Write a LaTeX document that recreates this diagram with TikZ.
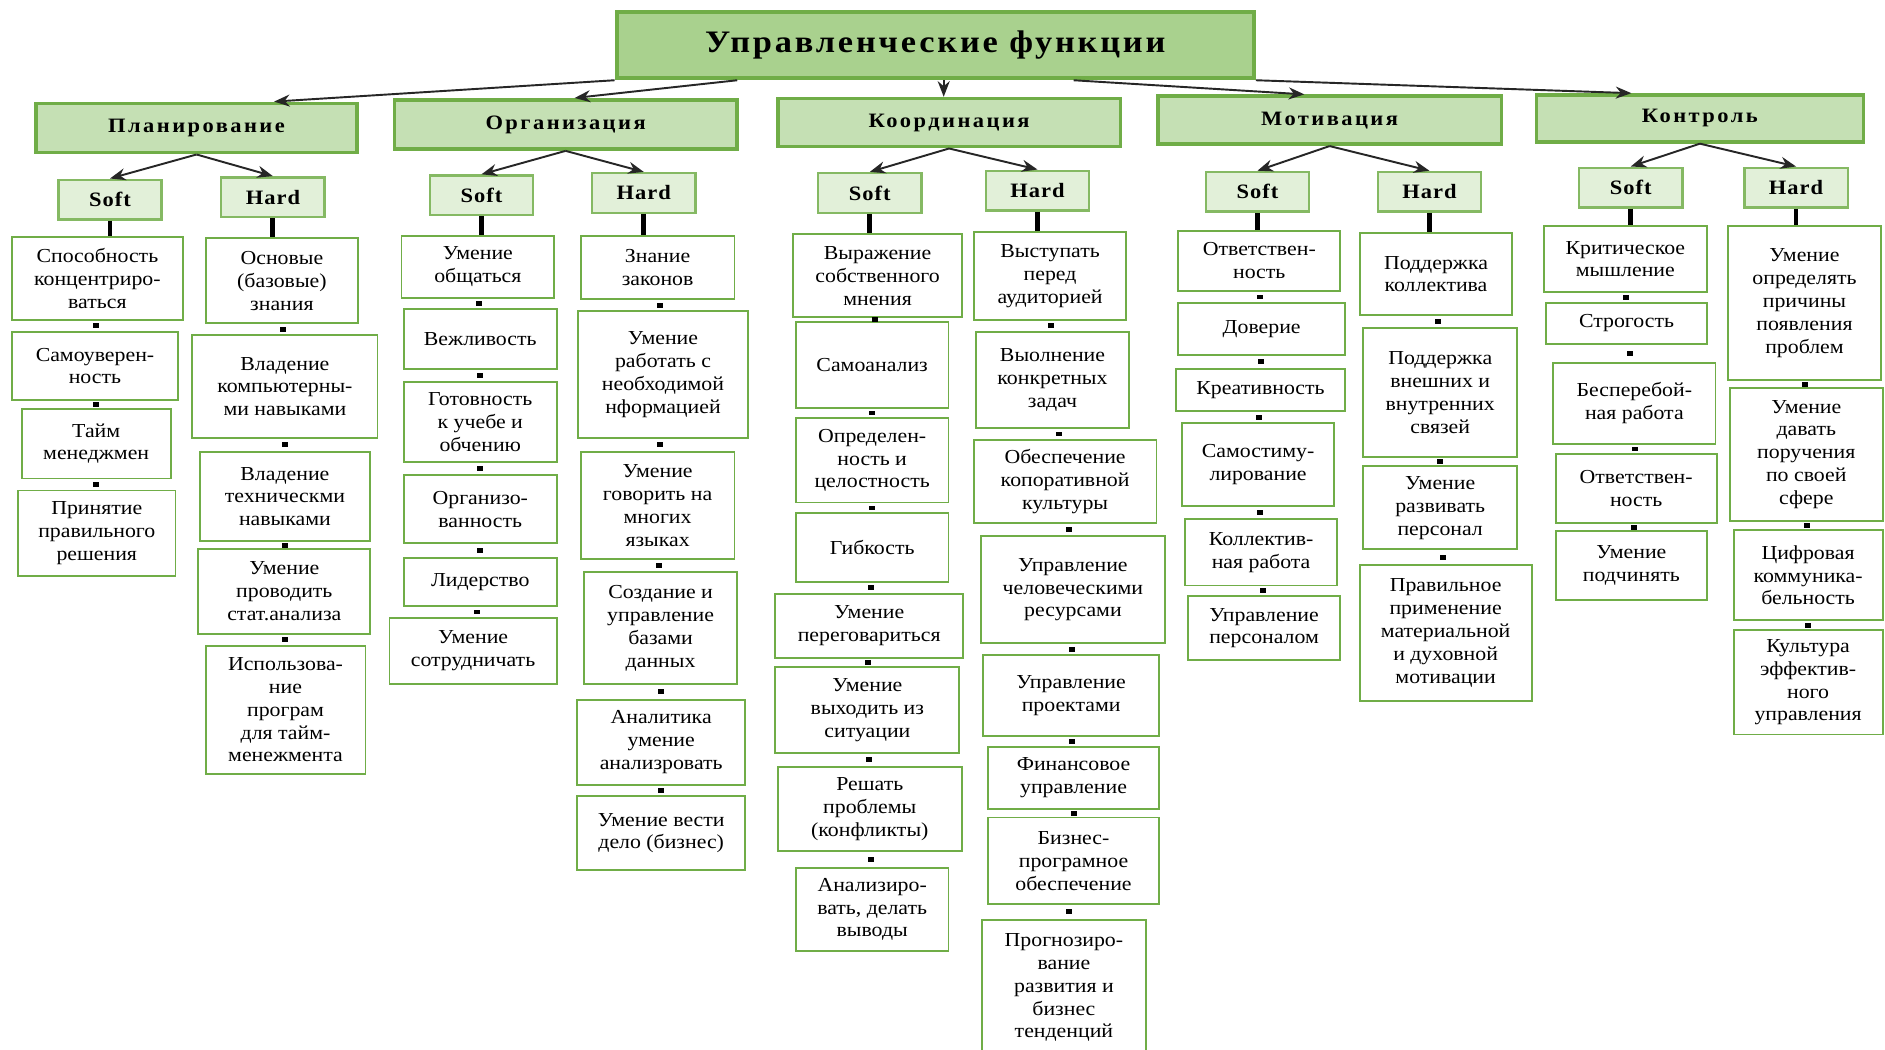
\documentclass[tikz,border=0pt]{standalone}
\usepackage{fontspec}
\setmainfont{Liberation Serif}[FakeStretch=1.1]
\newfontfamily\titlefont{Liberation Serif}[FakeStretch=1.1,LetterSpace=9]
\newfontfamily\headfont{Liberation Serif}[FakeStretch=1.1,LetterSpace=12]
\newfontfamily\skillfont{Liberation Serif}[FakeStretch=1.1,LetterSpace=5]
\usetikzlibrary{arrows.meta}
\definecolor{grn}{HTML}{70AD47}
\definecolor{topfill}{HTML}{A9D18E}
\definecolor{funcfill}{HTML}{C5E0B4}
\definecolor{skillfill}{HTML}{E2F0D9}
\begin{document}
\begin{tikzpicture}[x=1pt,y=-1pt,
  topbox/.style={draw=grn, line width=3.5pt, fill=topfill, inner sep=0pt,
    minimum width=530pt, minimum height=55pt,
    font=\titlefont\bfseries\fontsize{26}{30}\selectfont},
  funcbox/.style 2 args={draw=grn, line width=3pt, fill=funcfill, inner sep=0pt,
    minimum width=#1pt, minimum height=#2pt,
    font=\headfont\bfseries\fontsize{17}{20}\selectfont},
  skillbox/.style={draw=grn!85, line width=2pt, fill=skillfill, inner sep=0pt,
    minimum width=86pt, minimum height=33pt,
    font=\skillfont\bfseries\fontsize{17}{20}\selectfont},
  itembox/.style 2 args={draw=grn, line width=1.6pt, fill=white, inner sep=0pt,
    align=center, minimum width=#1pt, minimum height=#2pt,
    font=\fontsize{16.5}{19}\selectfont},
  arr/.style={-{Stealth[length=13pt,width=10pt]}, line width=1.6pt, draw=black!85},
  stem/.style={line width=4pt, draw=black},
  sq/.style={fill=black, minimum width=5pt, minimum height=4pt, inner sep=0pt}]
  \fill[white] (0,0) rectangle (1568,873);
  \useasboundingbox (0,0) rectangle (1568,873);

  % top and functions
  \node[topbox] (top) at (778,37.5) {Управленческие функции};
  \node[funcbox={267}{41}] (pl) at (163.5,106.5) {Планирование};
  \node[funcbox={285}{41}] (org) at (470.5,103.5) {Организация};
  \node[funcbox={285}{40}] (co) at (789.5,102) {Координация};
  \node[funcbox={286}{40}] (mo) at (1106,100) {Мотивация};
  \node[funcbox={272}{39}] (kt) at (1414,98.5) {Контроль};

  \draw[arr] (top.south west) -- ([xshift=64.5pt]pl.north);
  \draw[arr] ([xshift=102pt]top.south west) -- ([xshift=7.5pt]org.north);
  \draw[arr] ([xshift=7pt]top.south) -- ([xshift=-4.5pt]co.north);
  \draw[arr] ([xshift=115pt]top.south) -- ([xshift=-21pt]mo.north);
  \draw[arr] (top.south east) -- ([xshift=-57pt]kt.north);

  % soft / hard
  \node[skillbox] (plsoft) at (91.5,166) {Soft};
  \node[skillbox] (plhard) at (227,164) {Hard};
  \node[skillbox] (orgsoft) at (400.5,162.5) {Soft};
  \node[skillbox] (orghard) at (535.5,160.5) {Hard};
  \node[skillbox] (cosoft) at (723.5,160.5) {Soft};
  \node[skillbox] (cohard) at (863,158.5) {Hard};
  \node[skillbox] (mosoft) at (1046,159.5) {Soft};
  \node[skillbox] (mohard) at (1189,159.5) {Hard};
  \node[skillbox] (ktsoft) at (1356.5,156) {Soft};
  \node[skillbox] (kthard) at (1494,156) {Hard};

  \foreach \f in {pl,org,co,mo,kt} {
    \draw[arr] (\f.south) -- (\f soft.north);
    \draw[arr] (\f.south) -- (\f hard.north);
  }

  % Планирование
  \node[itembox={142}{69}] (ps1) at (81,231.5) {Способность\\концентриро-\\ваться};
  \node[itembox={138}{57}] (ps2) at (79,304.5) {Самоуверен-\\ность};
  \node[itembox={124}{58}] (ps3) at (80,369) {Тайм\\менеджмен};
  \node[itembox={131}{71}] (ps4) at (80.5,443.5) {Принятие\\правильного\\решения};
  \node[itembox={127}{71}] (ph1) at (234.5,233.5) {Основые\\(базовые)\\знания};
  \node[itembox={154}{85}] (ph2) at (237,321.5) {Владение\\компьютерны-\\ми навыками};
  \node[itembox={142}{74}] (ph3) at (237,413) {Владение\\техническми\\навыками};
  \node[itembox={143}{70}] (ph4) at (236.5,492) {Умение\\проводить\\стат.анализа};
  \node[itembox={133}{107}] (ph5) at (237.5,590.5) {Использова-\\ние\\програм\\для тайм-\\менежмента};

  % Организация
  \node[itembox={127}{52}] (os1) at (397.5,222) {Умение\\общаться};
  \node[itembox={127}{50}] (os2) at (399.5,282) {Вежливость};
  \node[itembox={127}{66}] (os3) at (399.5,351) {Готовность\\к учебе и\\обчению};
  \node[itembox={127}{57}] (os4) at (399.5,423.5) {Организо-\\ванность};
  \node[itembox={127}{40}] (os5) at (399.5,484) {Лидерство};
  \node[itembox={139}{55}] (os6) at (393.5,541.5) {Умение\\сотрудничать};
  \node[itembox={128}{53}] (oh1) at (547,222.5) {Знание\\законов};
  \node[itembox={141}{105}] (oh2) at (551.5,311.5) {Умение\\работать с\\необходимой\\нформацией};
  \node[itembox={128}{89}] (oh3) at (547,420.5) {Умение\\говорить на\\многих\\языках};
  \node[itembox={127}{93}] (oh4) at (549.5,522.5) {Создание и\\управление\\базами\\данных};
  \node[itembox={140}{71}] (oh5) at (550,617.5) {Аналитика\\умение\\анализровать};
  \node[itembox={140}{62}] (oh6) at (550,693) {Умение вести\\дело (бизнес)};

  % Координация
  \node[itembox={140}{69}] (cs1) at (730,229.5) {Выражение\\собственного\\мнения};
  \node[itembox={127}{71}] (cs2) at (725.5,303.5) {Самоанализ};
  \node[itembox={127}{70}] (cs3) at (725.5,383) {Определен-\\ность и\\целостность};
  \node[itembox={127}{57}] (cs4) at (725.5,455.5) {Гибкость};
  \node[itembox={156}{53}] (cs5) at (723,520.5) {Умение\\переговариться};
  \node[itembox={153}{71}] (cs6) at (721.5,590.5) {Умение\\выходить из\\ситуации};
  \node[itembox={153}{70}] (cs7) at (723.5,673) {Решать\\проблемы\\(конфликты)};
  \node[itembox={127}{69}] (cs8) at (725.5,756.5) {Анализиро-\\вать, делать\\выводы};
  \node[itembox={127}{73}] (ch1) at (873.5,229.5) {Выступать\\перед\\аудиторией};
  \node[itembox={127}{80}] (ch2) at (875.5,316) {Выолнение\\конкретных\\задач};
  \node[itembox={152}{69}] (ch3) at (886,400.5) {Обеспечение\\копоративной\\культуры};
  \node[itembox={153}{89}] (ch4) at (892.5,490.5) {Управление\\человеческими\\ресурсами};
  \node[itembox={146}{67}] (ch5) at (891,578.5) {Управление\\проектами};
  \node[itembox={142}{52}] (ch6) at (893,647) {Финансовое\\управление};
  \node[itembox={142}{72}] (ch7) at (893,716) {Бизнес-\\програмное\\обеспечение};
  \node[itembox={136}{113}] (ch8) at (885,821.5) {Прогнозиро-\\вание\\развития и\\бизнес\\тенденций};

  % Мотивация
  \node[itembox={135}{50}] (ms1) at (1047.5,217) {Ответствен-\\ность};
  \node[itembox={139}{43}] (ms2) at (1049.5,273.5) {Доверие};
  \node[itembox={141}{35}] (ms3) at (1048.5,324.5) {Креативность};
  \node[itembox={127}{69}] (ms4) at (1046.5,386.5) {Самостиму-\\лирование};
  \node[itembox={126}{55}] (ms5) at (1049,459.5) {Коллектив-\\ная работа};
  \node[itembox={127}{53}] (ms6) at (1051.5,522.5) {Управление\\персоналом};
  \node[itembox={127}{68}] (mh1) at (1194.5,228) {Поддержка\\коллектива};
  \node[itembox={128}{107}] (mh2) at (1198,326.5) {Поддержка\\внешних и\\внутренних\\связей};
  \node[itembox={128}{69}] (mh3) at (1198,422.5) {Умение\\развивать\\персонал};
  \node[itembox={143}{113}] (mh4) at (1202.5,526.5) {Правильное\\применение\\материальной\\и духовной\\мотивации};

  % Контроль
  \node[itembox={136}{55}] (ks1) at (1352,215.5) {Критическое\\мышление};
  \node[itembox={134}{34}] (ks2) at (1353,269) {Строгость};
  \node[itembox={135}{67}] (ks3) at (1359.5,335.5) {Бесперебой-\\ная работа};
  \node[itembox={134}{57}] (ks4) at (1361,406.5) {Ответствен-\\ность};
  \node[itembox={126}{57}] (ks5) at (1357,470.5) {Умение\\подчинять};
  \node[itembox={128}{128}] (kh1) at (1501,252) {Умение\\определять\\причины\\появления\\проблем};
  \node[itembox={127}{110}] (kh2) at (1502.5,378) {Умение\\давать\\поручения\\по своей\\сфере};
  \node[itembox={124}{75}] (kh3) at (1504,478.5) {Цифровая\\коммуника-\\бельность};
  \node[itembox={124}{87}] (kh4) at (1504,567.5) {Культура\\эффектив-\\ного\\управления};

  % stems and links
  \foreach \s/\c in {plsoft/ps1,plhard/ph1,orgsoft/os1,orghard/oh1,cosoft/cs1,
      cohard/ch1,mosoft/ms1,mohard/mh1,ktsoft/ks1,kthard/kh1}
    \draw[stem] (\s.south) -- (\s.south |- \c.north);
  \foreach \g/\n in {ps/4,ph/5,os/6,oh/6,cs/8,ch/8,ms/6,mh/4,ks/5,kh/4} {
    \pgfmathtruncatemacro\last{\n-1}
    \foreach \i in {1,...,\last} {
      \pgfmathtruncatemacro\j{\i+1}
      \path (\g\i.south) -- node[sq] {} (\g\j.north);
    }
  }
\end{tikzpicture}
\end{document}
